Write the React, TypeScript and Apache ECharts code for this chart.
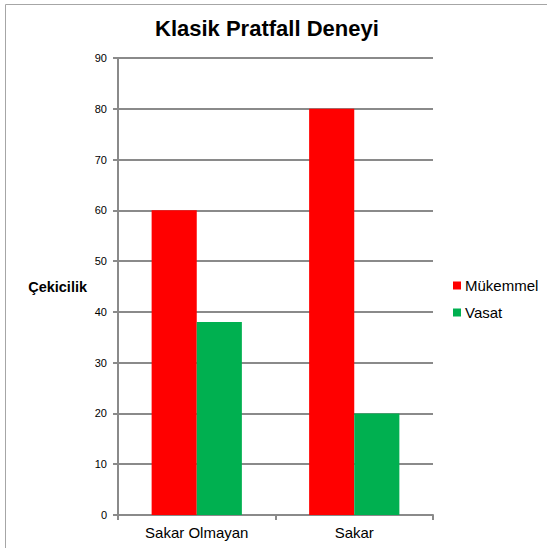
import React, { useEffect, useRef } from "react";
import * as echarts from "echarts";

const title = "Klasik Pratfall Deneyi";
const categories = ["Sakar Olmayan", "Sakar"];
const seriesNames = ["Mükemmel", "Vasat"];
const mukemmel = [60, 80];
const vasat = [38, 20];
const yAxisName = "Çekicilik";
const colors = ["#FF0000", "#00B050"];

const FONT = "'Liberation Sans', Arial, sans-serif";

export default function App() {
  const ref = useRef<HTMLDivElement>(null);
  useEffect(() => {
    if (!ref.current) return;
    const chart = echarts.init(ref.current, null, { renderer: "svg" });
    chart.setOption({
      animation: false,
      backgroundColor: "#ffffff",
      textStyle: { fontFamily: FONT },
      title: {
        text: title,
        left: 150,
        top: 12,
        textStyle: { fontSize: 22, fontWeight: "bold", color: "#000", fontFamily: FONT },
      },
      graphic: [
        {
          type: "rect",
          shape: { x: 5.5, y: 4.5, width: 600, height: 600 },
          style: { fill: "none", stroke: "#a6a6a6", lineWidth: 1 },
          silent: true,
        },
      ],
      legend: {
        orient: "vertical",
        left: 453,
        top: 278,
        padding: 0,
        itemWidth: 8,
        itemHeight: 8,
        itemGap: 12,
        icon: "rect",
        data: seriesNames,
        textStyle: { fontSize: 15, color: "#000", fontFamily: FONT, padding: [0, 0, 0, -1] },
      },
      grid: { left: 118, top: 58, right: 114, bottom: 33, containLabel: false },
      xAxis: {
        type: "category",
        data: categories,
        axisLine: { lineStyle: { color: "#8a8a8a", width: 2 } },
        axisTick: { show: true, length: 5, lineStyle: { color: "#8a8a8a", width: 2 } },
        axisLabel: { fontSize: 15, color: "#000", margin: 10, fontFamily: FONT },
      },
      yAxis: {
        type: "value",
        min: 0,
        max: 90,
        interval: 10,
        name: yAxisName,
        nameLocation: "middle",
        nameRotate: 0,
        nameGap: 31,
        nameTextStyle: { fontSize: 14.5, fontWeight: "bold", color: "#000", fontFamily: FONT },
        axisLine: { show: true, lineStyle: { color: "#8a8a8a", width: 2 } },
        axisTick: { show: true, length: 5, lineStyle: { color: "#8a8a8a", width: 2 } },
        axisLabel: { fontSize: 11, color: "#000", margin: 11, fontFamily: FONT },
        splitLine: { show: true, lineStyle: { color: "#8a8a8a", width: 2 } },
      },
      series: [
        {
          name: seriesNames[0],
          type: "bar",
          data: mukemmel,
          itemStyle: { color: colors[0] },
          barGap: "0%",
          barCategoryGap: "42.7%",
        },
        {
          name: seriesNames[1],
          type: "bar",
          data: vasat,
          itemStyle: { color: colors[1] },
          barGap: "0%",
          barCategoryGap: "42.7%",
        },
      ],
    });
    return () => chart.dispose();
  }, []);
  return (
    <div
      ref={ref}
      style={{ position: "fixed", left: 0, top: 0, width: 547, height: 548 }}
    />
  );
}
